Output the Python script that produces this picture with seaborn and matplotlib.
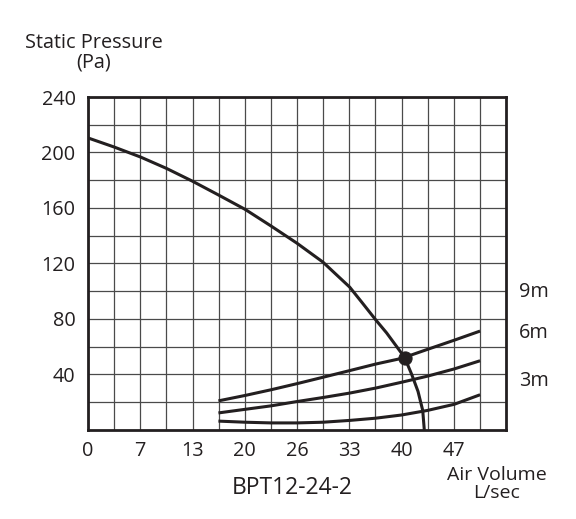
import numpy as np
import pandas as pd
import matplotlib
matplotlib.use("Agg")
import matplotlib.pyplot as plt
import seaborn as sns

# One grid cell on the x axis is about 3.325 L/sec
CELL = 3.325
X_TICK_LABELS = ["0", "7", "13", "20", "26", "33", "40", "47"]
Y_TICK_LABELS = ["40", "80", "120", "160", "200", "240"]

# Fan curve (L/sec, Pa)
FAN_X = [0, 3.3, 6.7, 10.0, 13.3, 16.6, 20.0, 23.3, 26.6, 29.9, 33.3,
         34.8, 36.6, 38.0, 39.3, 40.3, 41.2, 42.0, 42.6, 42.8]
FAN_Y = [210.5, 204, 196.7, 188.5, 179.3, 169.4, 159, 147, 134.6, 121, 103,
         92.4, 79.5, 70, 60, 52.2, 40, 27.8, 14.1, 0]

# System curves (duct lengths)
SYS_X = [16.6, 20.0, 23.3, 26.6, 29.9, 33.3, 36.6, 39.9, 43.2, 46.6, 49.9]
SYS_9M = [21.0, 24.9, 29.0, 33.4, 38.0, 42.8, 47.5, 51.6, 58.1, 64.7, 71.3]
SYS_6M = [12.3, 14.9, 17.4, 20.5, 23.4, 26.6, 30.2, 34.4, 38.8, 44.0, 49.9]
SYS_3M = [6.4, 5.6, 5.1, 5.1, 5.6, 6.9, 8.5, 10.8, 14.1, 18.5, 25.4]
CURVE_LABELS = ["9m", "6m", "3m"]

# Operating point
OP_X = [40.3]
OP_Y = [52.2]

sns.set_style("white")
plt.rcParams["font.family"] = ["Open Sans", "DejaVu Sans"]

fig = plt.figure(figsize=(5.76, 5.19), dpi=100)
ax = fig.add_axes([0.1528, 0.1715, 0.7257, 0.6416])

line_color = "#231f20"
text_color = "#231f20"
fs = 14.3

line_kw = dict(color=line_color, lw=2.2, solid_joinstyle="round", solid_capstyle="butt")
sns.lineplot(x=FAN_X, y=FAN_Y, ax=ax, sort=False, **line_kw)
for ys in (SYS_9M, SYS_6M, SYS_3M):
    sns.lineplot(x=SYS_X, y=ys, ax=ax, **line_kw)
sns.scatterplot(x=OP_X, y=OP_Y, ax=ax, color=line_color, s=90, zorder=5,
                edgecolor=line_color)

ax.set_xlim(0, 16 * CELL)
ax.set_ylim(0, 240)

major_x = [i * 2 * CELL for i in range(len(X_TICK_LABELS))]
minor_x = [(2 * i + 1) * CELL for i in range(8)]
ax.set_xticks(major_x)
ax.set_xticklabels(X_TICK_LABELS, fontsize=fs, color=text_color)
ax.set_xticks(minor_x, minor=True)

ax.set_yticks([40 * (i + 1) for i in range(len(Y_TICK_LABELS))])
ax.set_yticklabels(Y_TICK_LABELS, fontsize=fs, color=text_color)
ax.set_yticks([20 + 40 * i for i in range(6)], minor=True)

ax.tick_params(axis="x", which="major", length=4, width=1.2, color=line_color, pad=4)
ax.tick_params(axis="x", which="minor", length=0)
ax.tick_params(axis="y", which="both", length=0, pad=9)

ax.grid(True, which="both", color="#4a4a4a", lw=0.9)
ax.set_axisbelow(True)
for side in ax.spines.values():
    side.set_linewidth(2.0)
    side.set_color(line_color)

# labels
fig.text(94 / 576, 1 - 48 / 519, "Static Pressure", ha="center", va="baseline",
         fontsize=fs, color=text_color)
fig.text(94 / 576, 1 - 67 / 519, "(Pa)", ha="center", va="baseline",
         fontsize=fs, color=text_color)
fig.text(497 / 576, 1 - 480 / 519, "Air Volume", ha="center", va="baseline",
         fontsize=14, color=text_color)
fig.text(497 / 576, 1 - 498 / 519, "L/sec", ha="center", va="baseline",
         fontsize=14, color=text_color)
fig.text(292 / 576, 1 - 494 / 519, "BPT12-24-2", ha="center", va="baseline",
         fontsize=16.5, color=text_color)

for lbl, ypix in zip(CURVE_LABELS, (292, 333, 381)):
    fig.text(519 / 576, 1 - ypix / 519, lbl, ha="left", va="center",
             fontsize=fs, color=text_color)

fig.savefig("out.png", dpi=100)
